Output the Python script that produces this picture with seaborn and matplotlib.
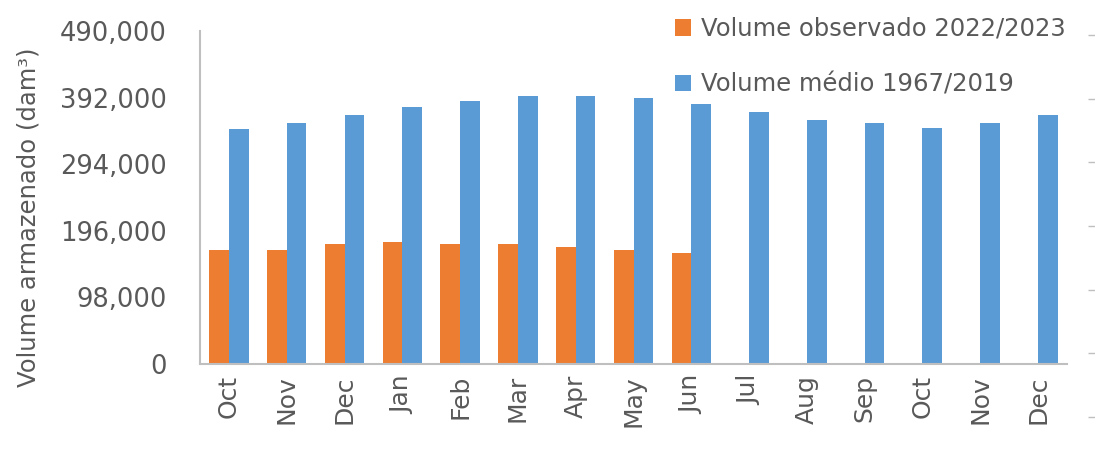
import matplotlib
matplotlib.use("Agg")
import matplotlib.pyplot as plt
import matplotlib.ticker as mticker
import seaborn as sns
import pandas as pd

# ---- data ----
months = ["Oct", "Nov", "Dec", "Jan", "Feb", "Mar", "Apr", "May", "Jun",
          "Jul", "Aug", "Sep", "Oct", "Nov", "Dec"]
keys = [f"{m}_{i}" for i, m in enumerate(months)]
observed = [167700, 167700, 176100, 179900, 176100, 176100, 171700, 167700, 163700]
average = [346400, 354500, 366700, 378500, 386900, 394700, 394700, 390800, 382500,
           371100, 358900, 354100, 346700, 354100, 366300]
series_names = ["Volume observado 2022/2023", "Volume médio 1967/2019"]
yticks = [0, 98000, 196000, 294000, 392000, 490000]
ylabel = "Volume armazenado (dam³)"

rows = []
for k, v in zip(keys, observed):
    rows.append({"key": k, "value": v, "series": series_names[0]})
for k, v in zip(keys, average):
    rows.append({"key": k, "value": v, "series": series_names[1]})
df = pd.DataFrame(rows)

sns.set_theme(style="white")
plt.rcParams["font.family"] = ["DejaVu Sans"]

text_color = "#595959"
axis_color = "#BFBFBF"

fig = plt.figure(figsize=(10.95, 4.68), dpi=100)
ax = fig.add_axes([200 / 1095, 104 / 468, 867 / 1095, 333 / 468])

sns.barplot(data=df, x="key", y="value", hue="series", order=keys,
            hue_order=series_names,
            palette=["#ED7D31", "#5B9BD5"], width=0.68, dodge=True,
            errorbar=None, linewidth=0, ax=ax, saturation=1)

ax.set_ylim(0, 490000)
ax.set_xlim(-0.5, len(keys) - 0.5)
ax.set_yticks(yticks)
ax.yaxis.set_major_formatter(mticker.FuncFormatter(lambda v, p: f"{int(v):,}"))
ax.set_xticks(range(len(keys)))
ax.set_xticklabels(months, rotation=90)
ax.tick_params(axis="y", length=0, pad=24, labelsize=18.5, labelcolor=text_color)
ax.tick_params(axis="x", length=0, pad=8, labelsize=18, labelcolor=text_color)
ax.set_xlabel("")
ax.set_ylabel(ylabel, fontsize=17.5, color=text_color)
ax.yaxis.set_label_coords(-0.1845, 0.44)

for s in ["top", "right"]:
    ax.spines[s].set_visible(False)
for s in ["left", "bottom"]:
    ax.spines[s].set_color(axis_color)
    ax.spines[s].set_linewidth(1.5)

leg = ax.legend(loc="upper left", bbox_to_anchor=(0.548, 1.0425), frameon=False,
                fontsize=17.5, handlelength=0.66, handleheight=0.66,
                handletextpad=0.4, labelspacing=1.3, borderaxespad=0,
                borderpad=0)
for t in leg.get_texts():
    t.set_color(text_color)

# secondary (cropped) axis tick marks at right edge
ax2 = fig.add_axes([1.0, 51 / 468, 0.01, 382 / 468])
ax2.set_ylim(0, 6)
ax2.set_yticks(range(7))
ax2.set_yticklabels([])
ax2.set_xticks([])
ax2.tick_params(axis="y", left=True, direction="out", length=5, width=1,
                color=axis_color)
ax2.patch.set_visible(False)
for s in ax2.spines.values():
    s.set_visible(False)

fig.savefig("out.png", dpi=100)
